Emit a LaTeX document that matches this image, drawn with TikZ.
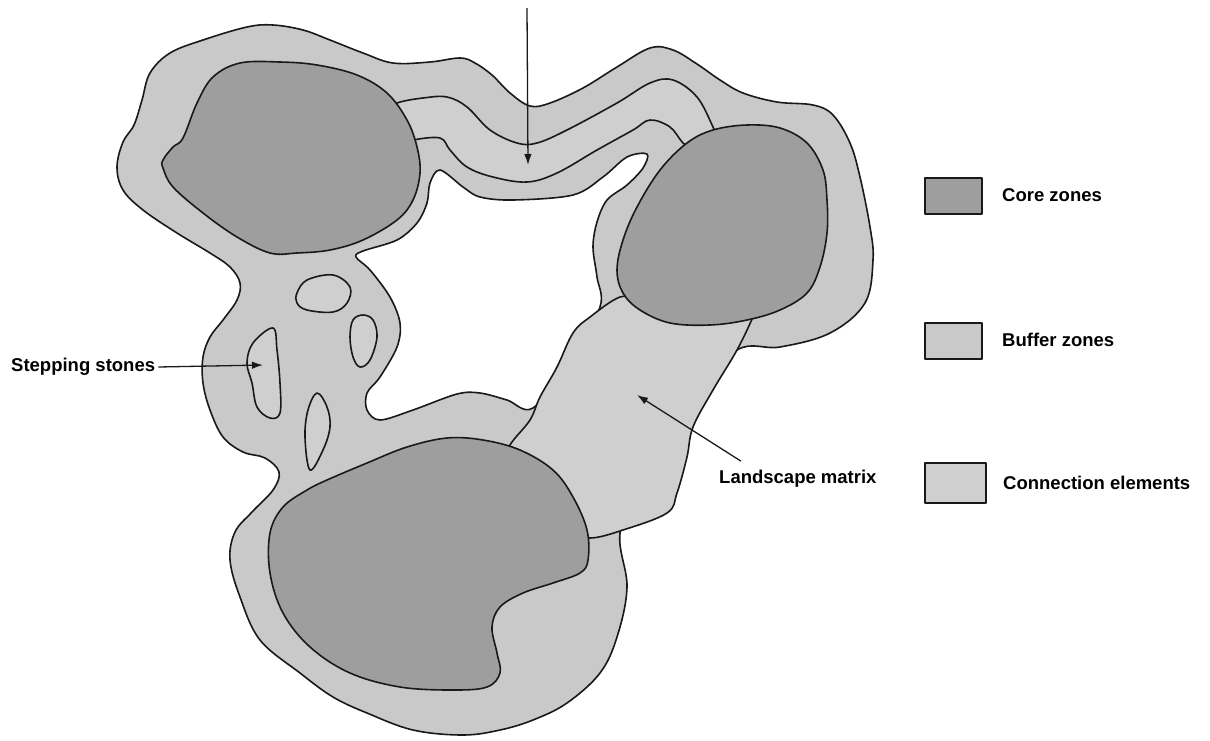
\documentclass[tikz,border=0pt]{standalone}
\usepackage{fontspec}
\setmainfont{Liberation Sans}
\usetikzlibrary{arrows.meta}
\definecolor{corefill}{gray}{0.62}
\definecolor{bufferfill}{gray}{0.79}
\definecolor{linkfill}{gray}{0.81}
\tikzset{
  zone/.style={draw=black!90, line width=1.6pt, line join=round},
  core/.style={zone, fill=corefill},
  buffer/.style={zone, fill=bufferfill},
  link/.style={zone, fill=linkfill},
  caption/.style={font=\fontsize{18.5}{22}\selectfont\bfseries, inner sep=3pt},
  pointer/.style={-{Latex[length=11pt,width=7.5pt]}, line width=1.3pt, draw=black!90},
  legendbox/.style={zone, line width=1.6pt, minimum width=57pt, minimum height=36pt, inner sep=0pt},
}

\begin{document}
\begin{tikzpicture}[x=1pt,y=-1pt]
\useasboundingbox (0,0) rectangle (1210,740);

% buffer zone
\draw[buffer] plot[smooth cycle, tension=0.6] coordinates {
  (203,40) (247,27) (273,25) (303,30) (330,40) (363,53) (393,63) (430,62) (460,58)
  (475,63) (492,75) (510,93) (530,106) (550,103) (583,88) (617,67) (650,48) (673,50)
  (697,64) (720,80) (743,93) (777,102) (813,105) (833,115) (850,143) (860,177)
  (870,227) (873,260) (865,303) (830,333) (780,347) (737,350) (690,400) (640,480)
  (620,533) (627,587) (617,637) (600,673) (567,703) (533,720) (500,730) (463,735)
  (413,730) (367,713) (333,697) (300,673) (260,640) (240,597) (230,560) (235,532)
  (252,512) (273,490) (279,472) (265,458) (243,452) (223,437) (210,410) (203,383)
  (203,357) (210,337) (223,320) (237,300) (240,283) (230,267) (210,253) (177,233)
  (143,210) (123,190) (117,167) (123,142) (134,125) (142,100) (150,73) (170,53)};

% open landscape
\draw[zone, fill=white] plot[smooth cycle, tension=0.55] coordinates {
  (440,170) (463,187) (480,197) (513,200) (573,195) (603,177) (627,157) (647,154)
  (643,168) (627,185) (607,200) (597,222) (593,247) (597,277) (600,307) (570,360)
  (533,408) (507,400) (480,393) (457,394) (413,410) (380,420) (367,410) (367,393)
  (380,377) (397,347) (400,323) (390,297) (370,270) (356,257) (363,251) (397,240)
  (417,223) (427,203) (430,183)};

% corridors
\draw[link] plot[smooth, tension=0.6] coordinates {
  (385,112) (397,103) (423,98) (447,97) (467,107) (490,130) (517,143) (537,143)
  (567,130) (617,103) (650,83) (673,80) (697,97) (713,127) (720,145)}
  -- plot[smooth, tension=0.6] coordinates {
  (695,152) (683,143) (670,127) (650,120) (633,130) (597,150) (557,173) (527,182)
  (493,177) (467,167) (450,150) (440,138) (413,140) (400,145)} -- cycle;
\draw[link] plot[smooth, tension=0.6] coordinates {
  (500,470) (510,445) (530,420) (540,397) (557,367) (573,333) (590,317) (620,297)
  (640,300)}
  -- plot[smooth, tension=0.6] coordinates {
  (760,300) (753,317) (737,350) (713,390) (693,427) (687,457) (677,493) (667,513)
  (623,530) (590,538) (570,530)} -- cycle;

% stepping stones
\draw[link] plot[smooth cycle, tension=0.6] coordinates {
  (297,293) (307,280) (333,275) (350,287) (347,303) (333,312) (307,310) (297,303)};
\draw[link] plot[smooth cycle, tension=0.6] coordinates {
  (353,320) (363,315) (373,320) (377,337) (370,360) (360,367) (353,357) (350,337)};
\draw[link] plot[smooth cycle, tension=0.6] coordinates {
  (253,343) (273,328) (277,350) (280,383) (280,413) (270,418) (257,407) (252,383)
  (247,363)};
\draw[link] plot[smooth cycle, tension=0.6] coordinates {
  (317,393) (327,407) (330,427) (323,450) (310,470) (305,437) (308,410)};

% core zones
\draw[core] plot[smooth cycle, tension=0.6] coordinates {
  (163,160) (173,147) (183,138) (197,103) (213,77) (240,63) (280,62) (317,65)
  (357,75) (387,93) (407,120) (417,147) (420,173) (413,200) (397,220) (363,240)
  (330,250) (297,253) (270,253) (237,237) (203,213) (173,187) (163,168)};
\draw[core] plot[smooth cycle, tension=0.6] coordinates {
  (687,143) (713,130) (747,125) (780,128) (807,143) (823,170) (827,200) (827,233)
  (820,267) (807,293) (780,310) (747,320) (710,325) (670,323) (640,310) (623,293)
  (617,270) (623,240) (637,207) (660,170)};
\draw[core] plot[smooth cycle, tension=0.6] coordinates {
  (327,480) (367,463) (407,447) (447,438) (483,440) (520,450) (553,470) (573,497)
  (587,530) (588,560) (580,573) (553,583) (523,593) (500,607) (492,627) (497,653)
  (500,673) (487,687) (453,690) (400,687) (350,673) (310,647) (283,613) (270,573)
  (270,533) (283,507) (307,490)};

% labels and pointers
\coordinate (toptail) at (527,8);
\coordinate (corridor) at (528,165);
\draw[pointer] (toptail) -- (corridor);

\node[caption, anchor=west] (stepping) at (8,367) {Stepping stones};
\coordinate (stone) at (263,365);
\draw[pointer] (stepping.east) -- (stone);

\node[caption, anchor=west] (matrix) at (716,479) {Landscape matrix};
\coordinate (matrixarea) at (637,395);
\draw[pointer] ([xshift=25pt, yshift=6pt]matrix.north west) -- (matrixarea);

% legend
\node[legendbox, fill=corefill] (corebox) at (953.5,196) {};
\node[legendbox, fill=bufferfill] (bufferbox) at (953.5,341) {};
\node[legendbox, fill=linkfill, minimum width=61pt, minimum height=40pt] (linkbox) at (955.5,483) {};
\node[caption, anchor=west] (coretext) at (999,195) {Core zones};
\node[caption, anchor=west] (buffertext) at (999,340) {Buffer zones};
\node[caption, anchor=west] (linktext) at (1000,483) {Connection elements};
\end{tikzpicture}
\end{document}
